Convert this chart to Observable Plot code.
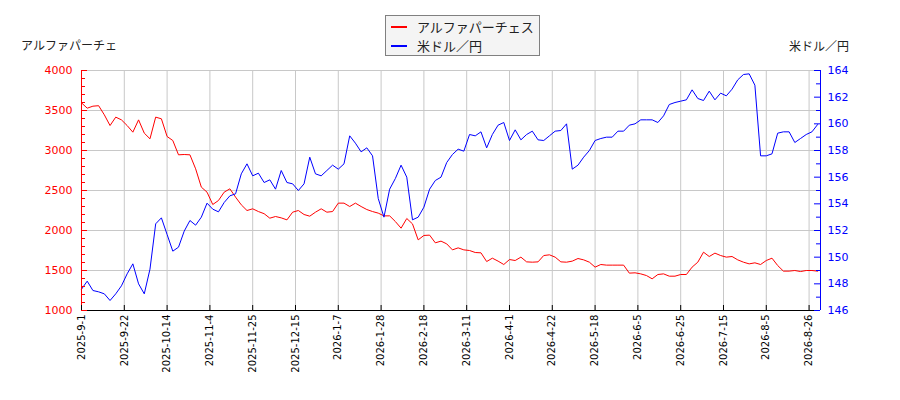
<!DOCTYPE html>
<html><head><meta charset="utf-8">
<script src="https://cdn.jsdelivr.net/npm/d3@7"></script>
<script src="https://cdn.jsdelivr.net/npm/@observablehq/plot@0.6"></script>
<style>
body{margin:0;background:#fff;}
#wrap{position:relative;width:900px;height:400px;background:#fff;font-family:"DejaVu Sans","Noto Sans CJK JP",sans-serif;}
#chart{position:absolute;left:0;top:0;}
.ttl{position:absolute;font-size:12px;color:#222;font-family:"Noto Sans CJK JP","DejaVu Sans",sans-serif;line-height:14px;white-space:nowrap;}
#legend{position:absolute;left:385px;top:15px;width:153px;height:39px;background:#f4f4f4;border:1px solid #808080;}
.lrow{position:absolute;left:0;height:16px;width:153px;}
.sw{position:absolute;left:5px;top:7px;width:16px;height:2px;}
.lt{position:absolute;left:31px;top:0;font-size:13px;line-height:16px;color:#222;font-family:"Noto Sans CJK JP","DejaVu Sans",sans-serif;white-space:nowrap;}
</style>
</head>
<body>
<div id="wrap">
  <div id="chart"></div>
  <div class="ttl" id="tl" style="left:21px;top:38px;"></div>
  <div class="ttl" id="tr" style="right:51px;top:39px;"></div>
  <div id="legend">
    <div class="lrow" style="top:3px;"><div class="sw" id="sw0"></div><div class="lt" id="lt0"></div></div>
    <div class="lrow" style="top:22px;"><div class="sw" id="sw1"></div><div class="lt" id="lt1"></div></div>
  </div>
</div>
<script>
// ---- data ----
const seriesNames = ["アルファパーチェス", "米ドル／円"];
const leftTitle = "アルファパーチェ";
const rightTitle = "米ドル／円";
const xTickLabels = ["2025-9-1","2025-9-22","2025-10-14","2025-11-4","2025-11-25","2025-12-15","2026-1-7","2026-1-28","2026-2-18","2026-3-11","2026-4-1","2026-4-22","2026-5-18","2026-6-5","2026-6-25","2026-7-15","2026-8-5","2026-8-26"];
const xTickIdx = [0,15,30,45,60,75,90,105,120,135,150,165,180,195,210,225,240,255];
const leftTicks = [1000,1500,2000,2500,3000,3500,4000];
const rightTicks = [146,148,150,152,154,156,158,160,162,164];
const alphaValues = [3596,3529,3554,3560,3446,3312,3417,3383,3312,3229,3383,3217,3146,3417,3396,3175,3125,2946,2950,2946,
2771,2542,2479,2325,2375,2479,2521,2417,2321,2250,2271,2237,2210,2154,2175,2158,2133,2229,2250,2200,
2179,2229,2271,2229,2237,2342,2342,2300,2342,2300,2262,2237,2217,2183,2183,2112,2029,2150,2083,1883,
1938,1942,1846,1867,1833,1758,1783,1758,1750,1725,1721,1612,1654,1617,1575,1637,1625,1667,1608,1604,
1608,1687,1696,1667,1608,1604,1617,1650,1633,1604,1542,1575,1567,1567,1567,1567,1467,1471,1458,1437,
1396,1450,1458,1429,1429,1450,1450,1542,1604,1729,1675,1717,1687,1667,1675,1633,1604,1583,1596,1575,
1625,1654,1562,1492,1492,1500,1487,1500,1500,1492];
const usdjpyValues = [147.6,148.2,147.5,147.4,147.25,146.75,147.25,147.85,148.75,149.5,148.0,147.25,149.1,152.5,152.95,151.7,150.45,150.75,151.95,152.75,
152.4,153.0,154.05,153.6,153.4,154.1,154.6,154.75,156.25,157.0,156.1,156.3,155.6,155.8,155.1,156.5,155.6,155.5,155.0,155.5,
157.5,156.25,156.1,156.5,156.9,156.6,157.0,159.1,158.55,157.9,158.2,157.6,154.4,153.0,155.1,155.9,156.9,156.0,152.8,153.0,
153.75,155.1,155.75,156.0,157.1,157.7,158.1,157.95,159.2,159.1,159.4,158.2,159.2,159.9,160.1,158.75,159.55,158.8,159.2,159.45,
158.8,158.75,159.1,159.45,159.5,160.0,156.6,156.9,157.5,158.0,158.75,158.9,159.0,159.0,159.45,159.45,159.9,160.0,160.3,160.3,
160.3,160.1,160.6,161.45,161.6,161.7,161.8,162.55,161.9,161.75,162.45,161.8,162.3,162.1,162.6,163.3,163.7,163.75,162.9,157.6,
157.6,157.75,159.3,159.4,159.4,158.6,158.9,159.2,159.4,159.95];
const sampleStep = 2;      // trading days between samples
const totalDays = 259;

// ---- layout / style ----
const RED = "#ff0000", BLUE = "#0000ff", GRID = "#c8c8c8";
const W = 900, H = 400, mL = 81, mR = 80, mT = 70, mB = 90;
const plotW = W - mL - mR, plotH = H - mT - mB;
const leftDomain = [1000, 4000], rightDomain = [146, 164];
const toLeft = v => leftDomain[0] + (v - rightDomain[0]) * (leftDomain[1] - leftDomain[0]) / (rightDomain[1] - rightDomain[0]);
const fromLeft = y => rightDomain[0] + (y - leftDomain[0]) * (rightDomain[1] - rightDomain[0]) / (leftDomain[1] - leftDomain[0]);

const alpha = alphaValues.map((v, k) => ({i: k * sampleStep, v}));
const usd = usdjpyValues.map((v, k) => ({i: k * sampleStep, v: toLeft(v)}));
const leftMinor = d3.range(leftDomain[0], leftDomain[1] + 1, 100).filter(t => !leftTicks.includes(t));
const rightMinor = d3.range(rightDomain[0] + 1, rightDomain[1], 2);

const chart = Plot.plot({
  width: W, height: H,
  marginLeft: mL, marginRight: mR, marginTop: mT, marginBottom: mB,
  x: {domain: [0, totalDays], axis: null},
  y: {domain: leftDomain, axis: null},
  style: {fontFamily: "DejaVu Sans, sans-serif", fontSize: "10px", background: "#fff", overflow: "visible"},
  marks: [
    Plot.ruleY(leftTicks, {stroke: GRID}),
    Plot.ruleX(xTickIdx, {stroke: GRID}),
    Plot.line(alpha, {x: "i", y: "v", stroke: RED, strokeWidth: 1}),
    Plot.line(usd, {x: "i", y: "v", stroke: BLUE, strokeWidth: 1}),
    Plot.ruleY([leftDomain[0]], {stroke: "#000"}),
    Plot.ruleX([0], {stroke: RED}),
    Plot.ruleX([totalDays], {stroke: BLUE}),
    Plot.ruleY(leftTicks, {stroke: RED, insetRight: plotW - 6}),
    Plot.ruleY(leftMinor, {stroke: RED, insetRight: plotW - 4}),
    Plot.ruleY(rightTicks.map(toLeft), {stroke: BLUE, insetLeft: plotW - 6}),
    Plot.ruleY(rightMinor.map(toLeft), {stroke: BLUE, insetLeft: plotW - 4}),
    Plot.ruleX(xTickIdx, {stroke: "#000", insetTop: plotH - 5}),
    Plot.axisY(leftTicks, {anchor: "left", tickSize: 0, tickPadding: 9, fill: RED, fontSize: 11, label: null,
      tickFormat: d => String(d)}),
    Plot.axisY(rightTicks.map(toLeft), {anchor: "right", tickSize: 0, tickPadding: 7, fill: BLUE, fontSize: 11, label: null,
      tickFormat: d => String(Math.round(fromLeft(d)))}),
    Plot.axisX(xTickIdx, {anchor: "bottom", tickSize: 0, tickPadding: 4, tickRotate: -90, fill: "#000", label: null,
      tickFormat: d => xTickLabels[xTickIdx.indexOf(d)]})
  ]
});
document.getElementById("chart").appendChild(chart);
document.getElementById("tl").textContent = leftTitle;
document.getElementById("tr").textContent = rightTitle;
document.getElementById("lt0").textContent = seriesNames[0];
document.getElementById("lt1").textContent = seriesNames[1];
document.getElementById("sw0").style.background = RED;
document.getElementById("sw1").style.background = BLUE;
</script>
</body></html>
